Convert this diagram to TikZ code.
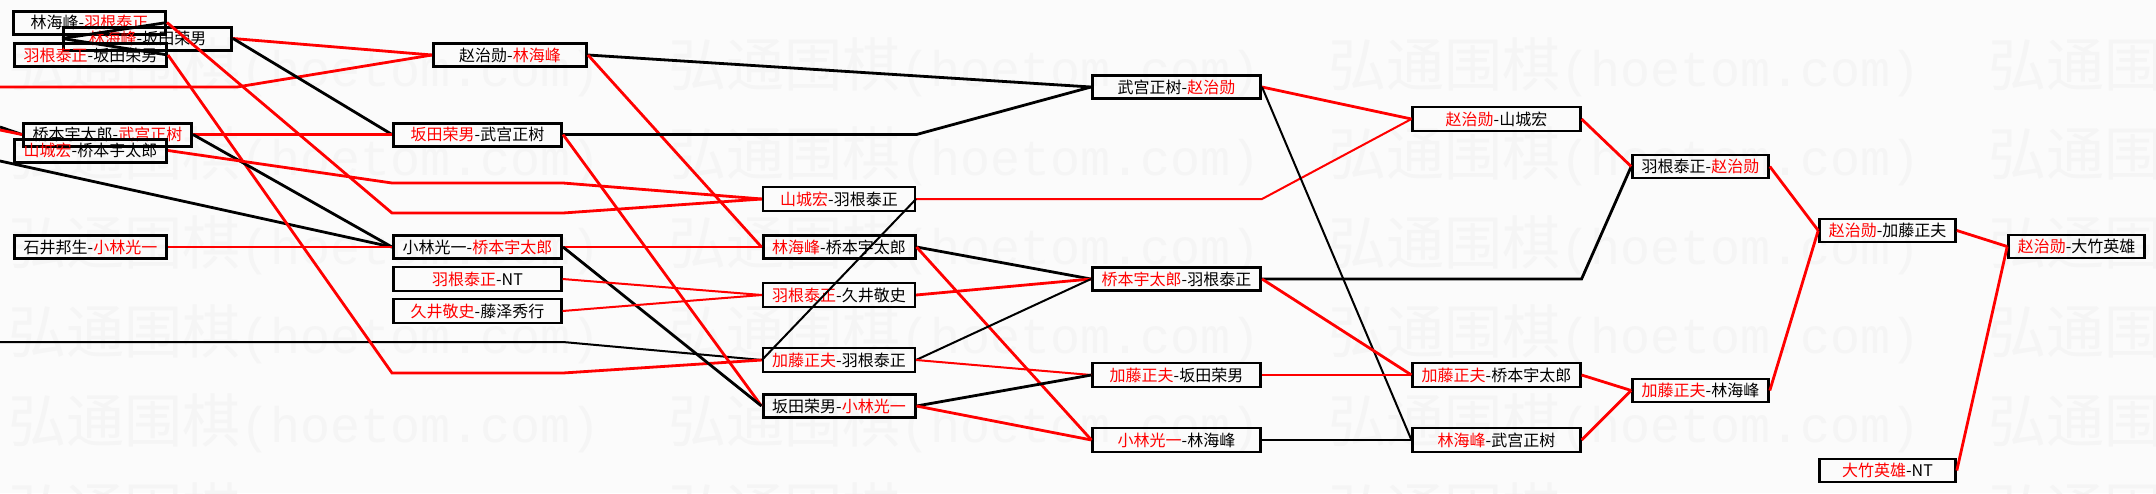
\documentclass[tikz,border=0pt]{standalone}
\usepackage{fontspec}
\newfontfamily\cjk{Noto Sans CJK SC}
\newfontfamily\wmlatin{Liberation Mono}

\newcommand{\redname}[1]{\textcolor{red}{#1}}
\newcommand{\wmunit}{\makebox[330pt][l]{\cjk\fontsize{29}{29}\selectfont 弘通围棋\wmlatin\fontsize{25}{25}\selectfont(hoetom.com)}}
\newcommand{\wmrow}{\wmunit\wmunit\wmunit\wmunit}

\tikzset{
  game/.style={draw=black, line width=1.5pt, inner sep=0pt, minimum height=11.5pt, font=\cjk\fontsize{8}{8}\selectfont},
  gamethin/.style={game, line width=1.05pt, minimum height=12pt},
  wshort/.style={minimum width=76pt},
  wlong/.style={minimum width=84pt},
  wfinal/.style={minimum width=68pt},
  redline/.style={draw=red, line width=1.4pt},
  redthin/.style={draw=red, line width=1pt},
  blkline/.style={draw=black, line width=1.4pt},
  blkthin/.style={draw=black, line width=1pt},
  wmark/.style={text=black!4, inner sep=0pt, anchor=west}
}

\begin{document}
\begin{tikzpicture}[x=0.5pt, y=-0.5pt]
\useasboundingbox (0,0) rectangle (2156,493);
\clip (0,0) rectangle (2156,493);
\fill[black!1.5] (0,0) rectangle (2156,493);

\node[wmark] (wm1) at (8,67) {\wmrow};
\node[wmark] (wm2) at (8,156) {\wmrow};
\node[wmark] (wm3) at (8,245) {\wmrow};
\node[wmark] (wm4) at (8,334) {\wmrow};
\node[wmark] (wm5) at (8,423) {\wmrow};
\node[wmark] (wm6) at (8,512) {\wmrow};

% first column, the boxes run into each other
\node[game, wshort] (b1) at (89.5,22.5) {林海峰-\redname{羽根泰正}};
\node[game, wlong] (b2) at (147.5,38.5) {\redname{林海峰}-坂田荣男};
\node[game, wshort] (b3) at (90.5,55) {\redname{羽根泰正}-坂田荣男};
\node[game, wlong] (b5) at (107.5,134.5) {桥本宇太郎-\redname{武宫正树}};
\node[game, wshort] (b6) at (90.5,150.5) {\redname{山城宏}-桥本宇太郎};
\node[game, wshort] (b8) at (90.5,247) {石井邦生-\redname{小林光一}};

\node[game, wshort, minimum width=76.5pt] (b4) at (510,55) {赵治勋-\redname{林海峰}};
\node[game, wlong] (b7) at (477.5,134.5) {\redname{坂田荣男}-武宫正树};
\node[game, wlong] (b9) at (477.5,247) {小林光一-\redname{桥本宇太郎}};
\node[gamethin, wlong] (b10) at (477.5,279) {\redname{羽根泰正}-NT};
\node[gamethin, wlong] (b11) at (477.5,311) {\redname{久井敬史}-藤泽秀行};

\node[gamethin, wshort] (b13) at (839,199) {\redname{山城宏}-羽根泰正};
\node[game, wshort] (b14) at (839,247) {\redname{林海峰}-桥本宇太郎};
\node[gamethin, wshort] (b15) at (839,295) {\redname{羽根泰正}-久井敬史};
\node[gamethin, wshort] (b16) at (839,360) {\redname{加藤正夫}-羽根泰正};
\node[game, wshort] (b17) at (839,406) {坂田荣男-\redname{小林光一}};

\node[game, wlong] (b12) at (1176.5,87) {武宫正树-\redname{赵治勋}};
\node[game, wlong] (b18) at (1176.5,279) {\redname{桥本宇太郎}-羽根泰正};
\node[gamethin, wlong] (b19) at (1176.5,375) {\redname{加藤正夫}-坂田荣男};
\node[gamethin, wlong] (b20) at (1176.5,440) {\redname{小林光一}-林海峰};

\node[gamethin, wlong] (b23) at (1496.5,119) {\redname{赵治勋}-山城宏};
\node[gamethin, wlong] (b21) at (1496.5,375) {\redname{加藤正夫}-桥本宇太郎};
\node[gamethin, wlong] (b22) at (1496.5,440) {\redname{林海峰}-武宫正树};

\node[game, wfinal, line width=1.3pt] (b24) at (1700.5,166.5) {羽根泰正-\redname{赵治勋}};
\node[game, wfinal, line width=1.3pt] (b27) at (1700.5,390.5) {\redname{加藤正夫}-林海峰};
\node[game, wfinal, line width=1.3pt] (b25) at (1887.5,230.5) {\redname{赵治勋}-加藤正夫};
\node[game, wfinal, line width=1.3pt] (b28) at (1887.5,470.5) {\redname{大竹英雄}-NT};
\node[game, wfinal, line width=1.3pt] (b26) at (2076.5,246.5) {\redname{赵治勋}-大竹英雄};

% lines coming in from the left edge
\coordinate (inA) at (0,87);
\coordinate (inB) at (0,127);
\coordinate (inC) at (0,130);
\coordinate (inD) at (0,161);
\coordinate (inE) at (0,342);

\draw[redline] (inA) -- (237,87) -- (b4.west);
\draw[blkline] (inB) -- (b5.west);
\draw[redline] (inC) -- (b5.west);
\draw[blkline] (inD) -- (b9.west);
\draw[blkthin] (inE) -- (inE -| b9.east) -- (b16.west);

\draw[blkline] (b1.east) -- (b2.west);
\draw[blkline] (b3.east) -- (b2.west);
\draw[redline] (b1.east) -- (392,213) -- (563,213) -- (b13.west);
\draw[redline] (b2.east) -- (b4.west);
\draw[blkline] (b2.east) -- (b7.west);
\draw[redline] (b3.east) -- (392,373) -- (563,373) -- (b16.west);
\draw[redline] (b5.east) -- (b7.west);
\draw[blkline] (b5.east) -- (b9.west);
\draw[redline] (b6.east) -- (392,183) -- (563,183) -- (b13.west);
\draw[redline] (b8.east) -- (b9.west);

\draw[blkline] (b4.east) -- (b12.west);
\draw[redline] (b4.east) -- (b14.west);
\draw[blkline] (b7.east) -- (b7.east -| b14.east) -- (b12.west);
\draw[redline] (b7.east) -- (b17.west);
\draw[redline] (b9.east) -- (b14.west);
\draw[blkline] (b9.east) -- (b17.west);
\draw[redthin] (b10.east) -- (b15.west);
\draw[redthin] (b11.east) -- (b15.west);

\draw[redthin] (b13.east) -- (b13.east -| b12.east) -- (b23.west);
\draw[blkthin] (b13.east) -- (b16.west);
\draw[blkline] (b14.east) -- (b18.west);
\draw[redline] (b14.east) -- (b20.west);
\draw[redline] (b15.east) -- (b18.west);
\draw[blkthin] (b16.east) -- (b18.west);
\draw[redthin] (b16.east) -- (b19.west);
\draw[blkline] (b17.east) -- (b19.west);
\draw[redline] (b17.east) -- (b20.west);

\draw[redline] (b12.east) -- (b23.west);
\draw[blkthin] (b12.east) -- (b22.west);
\draw[blkline] (b18.east) -- (b18.east -| b21.east) -- (b24.west);
\draw[redline] (b18.east) -- (b21.west);
\draw[redthin] (b19.east) -- (b21.west);
\draw[blkthin] (b20.east) -- (b22.west);

\draw[redline] (b23.east) -- (b24.west);
\draw[redline] (b21.east) -- (b27.west);
\draw[redline] (b22.east) -- (b27.west);
\draw[redline] (b24.east) -- (b25.west);
\draw[redline] (b27.east) -- (b25.west);
\draw[redline] (b25.east) -- (b26.west);
\draw[redline] (b28.east) -- (b26.west);
\end{tikzpicture}
\end{document}
